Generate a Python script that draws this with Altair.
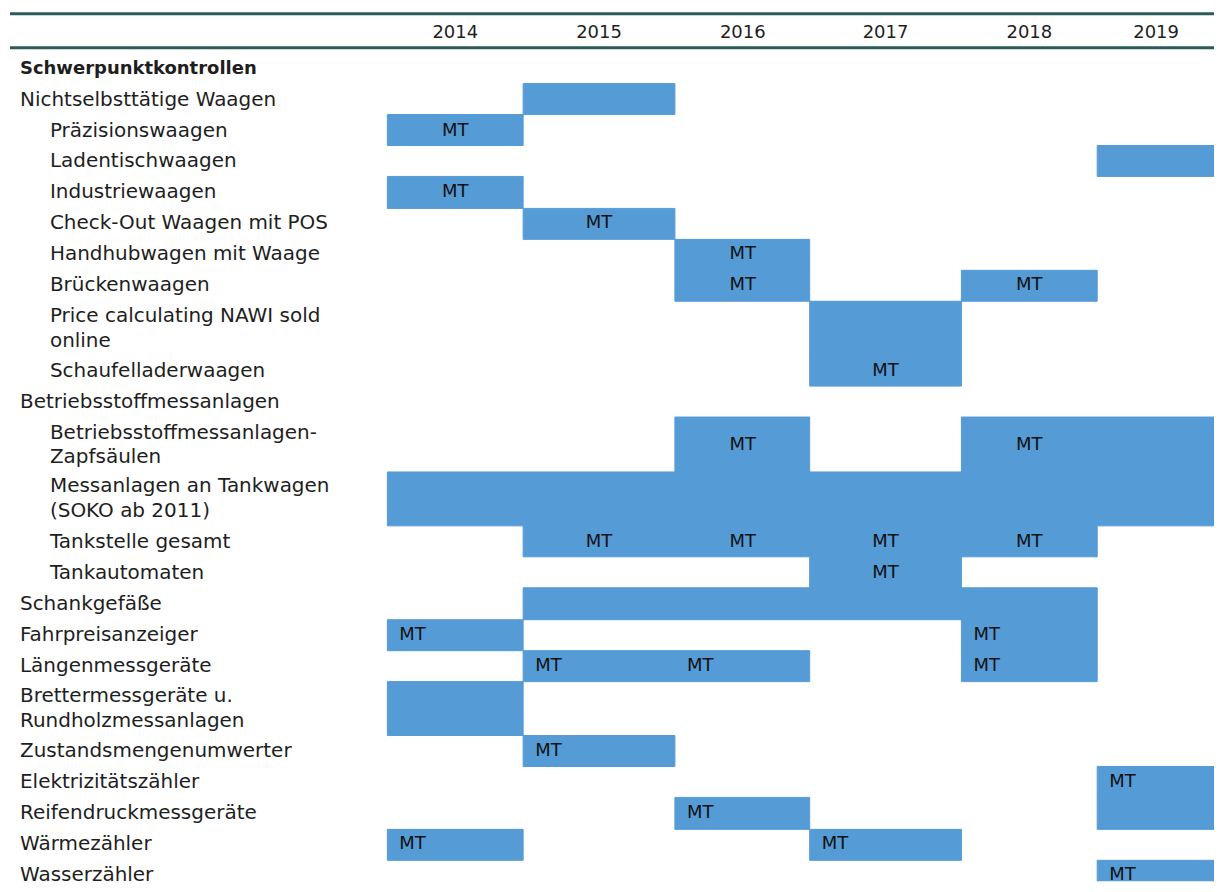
import altair as alt
import pandas as pd

# ---- data -------------------------------------------------------------
years = [2014, 2015, 2016, 2017, 2018, 2019]

row_labels = [
    "Schwerpunktkontrollen",
    "Nichtselbsttätige Waagen",
    "Präzisionswaagen",
    "Ladentischwaagen",
    "Industriewaagen",
    "Check-Out Waagen mit POS",
    "Handhubwagen mit Waage",
    "Brückenwaagen",
    "Price calculating NAWI sold|online",
    "Schaufelladerwaagen",
    "Betriebsstoffmessanlagen",
    "Betriebsstoffmessanlagen-|Zapfsäulen",
    "Messanlagen an Tankwagen|(SOKO ab 2011)",
    "Tankstelle gesamt",
    "Tankautomaten",
    "Schankgefäße",
    "Fahrpreisanzeiger",
    "Längenmessgeräte",
    "Brettermessgeräte u.|Rundholzmessanlagen",
    "Zustandsmengenumwerter",
    "Elektrizitätszähler",
    "Reifendruckmessgeräte",
    "Wärmezähler",
    "Wasserzähler",
]
row_level = [0, 0, 1, 1, 1, 1, 1, 1, 1, 1, 0, 1, 1, 1, 1, 0, 0, 0, 0, 0, 0, 0, 0, 0]

# coloured bars: row, first year, last year
seg_row = [
    "Nichtselbsttätige Waagen", "Präzisionswaagen", "Ladentischwaagen",
    "Industriewaagen", "Check-Out Waagen mit POS", "Handhubwagen mit Waage",
    "Brückenwaagen", "Brückenwaagen", "Price calculating NAWI sold|online",
    "Schaufelladerwaagen", "Betriebsstoffmessanlagen-|Zapfsäulen",
    "Betriebsstoffmessanlagen-|Zapfsäulen", "Messanlagen an Tankwagen|(SOKO ab 2011)",
    "Tankstelle gesamt", "Tankautomaten", "Schankgefäße",
    "Fahrpreisanzeiger", "Fahrpreisanzeiger", "Längenmessgeräte", "Längenmessgeräte",
    "Brettermessgeräte u.|Rundholzmessanlagen", "Zustandsmengenumwerter",
    "Elektrizitätszähler", "Reifendruckmessgeräte", "Reifendruckmessgeräte",
    "Wärmezähler", "Wärmezähler", "Wasserzähler",
]
seg_from = [2015, 2014, 2019, 2014, 2015, 2016, 2016, 2018, 2017, 2017, 2016, 2018,
            2014, 2015, 2017, 2015, 2014, 2018, 2015, 2018, 2014, 2015, 2019, 2016,
            2019, 2014, 2017, 2019]
seg_to = [2015, 2014, 2019, 2014, 2015, 2016, 2016, 2018, 2017, 2017, 2016, 2019,
          2019, 2018, 2017, 2018, 2014, 2018, 2016, 2018, 2014, 2015, 2019, 2016,
          2019, 2014, 2017, 2019]

# "MT" marks: row, year
mt_row = [
    "Präzisionswaagen", "Industriewaagen", "Check-Out Waagen mit POS",
    "Handhubwagen mit Waage", "Brückenwaagen", "Brückenwaagen", "Schaufelladerwaagen",
    "Betriebsstoffmessanlagen-|Zapfsäulen", "Betriebsstoffmessanlagen-|Zapfsäulen",
    "Tankstelle gesamt", "Tankstelle gesamt", "Tankstelle gesamt", "Tankstelle gesamt",
    "Tankautomaten", "Fahrpreisanzeiger", "Fahrpreisanzeiger",
    "Längenmessgeräte", "Längenmessgeräte", "Längenmessgeräte",
    "Zustandsmengenumwerter", "Elektrizitätszähler", "Reifendruckmessgeräte",
    "Wärmezähler", "Wärmezähler", "Wasserzähler",
]
mt_year = [2014, 2014, 2015, 2016, 2016, 2018, 2017, 2016, 2018, 2015, 2016, 2017,
           2018, 2017, 2014, 2018, 2015, 2016, 2018, 2015, 2019, 2016, 2014, 2017, 2019]

# ---- derived tables ---------------------------------------------------
n_lines = [lab.count("|") + 1 for lab in row_labels]
heights = [1.0 if n == 1 else 1.75 for n in n_lines]
tops, acc = [], 0.0
for h in heights:
    tops.append(acc)
    acc += h
total_units = acc
rows = pd.DataFrame({
    "label": row_labels,
    "level": row_level,
    "nlines": n_lines,
    "top": tops,
    "bottom": [t + h for t, h in zip(tops, heights)],
})
rows["mid"] = (rows["top"] + rows["bottom"]) / 2
rows["bold"] = [i == 0 for i in range(len(rows))]
rows["idx"] = range(len(rows))
pos = rows.set_index("label")

segs = pd.DataFrame({"row": seg_row, "x0": seg_from, "x1": [t + 1 for t in seg_to]})
segs["top"] = segs["row"].map(pos["top"])
segs["bottom"] = segs["row"].map(pos["bottom"])

split_idx = row_labels.index("Fahrpreisanzeiger")
mts = pd.DataFrame({"row": mt_row, "year": mt_year, "text": "MT"})
mts["mid"] = mts["row"].map(pos["mid"])
mts["left"] = mts["row"].map(pos["idx"]) >= split_idx
mts["xc"] = mts["year"] + 0.5

hdr = pd.DataFrame({"year": years, "xc": [y + 0.5 for y in years], "text": [str(y) for y in years]})
one = pd.DataFrame({"k": [0]})

# ---- styling ----------------------------------------------------------
FONT = "DejaVu Sans"
FS = 18
FS_ROW = 20
LH = 25
BAR = "#559BD6"
LINE = "#2B5B57"
TXT = "#1e1e1e"
W, H = 1208, 874

xs = alt.Scale(domain=[2014, 2015, 2016, 2017, 2018, 2019, 2020],
               range=[380, 516, 668, 803, 955, 1091, W], zero=False, nice=False, round=True)
ys = alt.Scale(domain=[0, total_units], range=[44, 44 + total_units * 31.1],
               zero=False, nice=False, round=True)

rule1 = alt.Chart(one).mark_rule(color=LINE, strokeWidth=3).encode(
    x=alt.value(2), x2=alt.value(W), y=alt.value(5))
rule2 = alt.Chart(one).mark_rule(color=LINE, strokeWidth=3).encode(
    x=alt.value(2), x2=alt.value(W), y=alt.value(39))

bars = alt.Chart(segs).mark_rect(color=BAR, stroke=BAR, strokeWidth=1, clip=True).encode(
    x=alt.X("x0:Q", scale=xs, axis=None),
    x2="x1:Q",
    y=alt.Y("top:Q", scale=ys, axis=None),
    y2="bottom:Q",
)

years_txt = alt.Chart(hdr).mark_text(font=FONT, fontSize=FS, color=TXT,
                                     align="center", baseline="middle").encode(
    x=alt.X("xc:Q", scale=xs, axis=None), y=alt.value(24), text="text:N")


def row_layer(level, xpx, bold, nl):
    return alt.Chart(rows).transform_filter(
        (alt.datum.level == level) & (alt.datum.bold == bold) & (alt.datum.nlines == nl)
    ).transform_calculate(
        lines="split(datum.label, '|')"
    ).mark_text(font=FONT, fontSize=FS if bold else FS_ROW, color=TXT, align="left",
                baseline="middle", lineHeight=LH, dy=-(nl - 1) * LH / 2,
                fontWeight="bold" if bold else "normal").encode(
        x=alt.value(xpx),
        y=alt.Y("mid:Q", scale=ys, axis=None),
        text="lines:N",
    )


lab_bold = row_layer(0, 12, True, 1)
lab0a = row_layer(0, 12, False, 1)
lab0b = row_layer(0, 12, False, 2)
lab1a = row_layer(1, 42, False, 1)
lab1b = row_layer(1, 42, False, 2)

mt_center = alt.Chart(mts).transform_filter(~alt.datum.left).mark_text(
    font=FONT, fontSize=FS, color="#111", align="center", baseline="middle"
).encode(x=alt.X("xc:Q", scale=xs, axis=None),
         y=alt.Y("mid:Q", scale=ys, axis=None), text="text:N")

mt_left = alt.Chart(mts).transform_filter(alt.datum.left).mark_text(
    font=FONT, fontSize=FS, color="#111", align="left", baseline="middle", dx=12
).encode(x=alt.X("year:Q", scale=xs, axis=None),
         y=alt.Y("mid:Q", scale=ys, axis=None), text="text:N")

chart = alt.layer(bars, rule1, rule2, years_txt, lab_bold, lab0a, lab0b, lab1a, lab1b,
                  mt_center, mt_left).properties(
    width=W, height=H, padding=0
).configure_view(stroke=None)

chart.save("out.html", embed_options={"renderer": "svg", "actions": False})
